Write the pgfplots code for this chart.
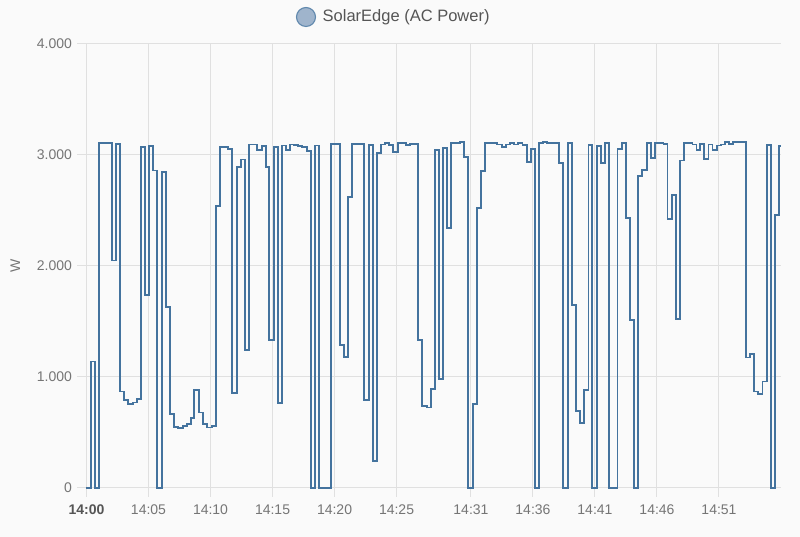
\documentclass[border=0pt]{standalone}
\usepackage{pgfplots}
\pgfplotsset{compat=1.18}
\usepackage{fontspec}
\setmainfont{Liberation Sans}

\definecolor{bg}{HTML}{FAFAFA}
\definecolor{gridc}{HTML}{E0E0E0}
\definecolor{linec}{HTML}{44739E}
\definecolor{dotfill}{HTML}{9FB4CC}
\definecolor{labc}{HTML}{757575}
\definecolor{boldc}{HTML}{555555}

\begin{document}
\begin{tikzpicture}
% page = 800 x 537 px, axis box lower left at (0,0)
\fill[bg] (-86.5pt,-49pt) rectangle (713.5pt,488pt);
\useasboundingbox (-86.5pt,-49pt) rectangle (713.5pt,488pt);
\begin{axis}[
	at={(0pt,0pt)}, anchor=south west,
	scale only axis,
	width=694.5pt, height=444pt,
	xmin=0, xmax=56,
	ymin=0, ymax=4000,
	axis x line*=bottom,
	axis y line*=left,
	axis line style={gridc, line width=1pt},
	grid=major,
	major grid style={gridc, line width=1pt},
	tick align=outside,
	major tick length=9pt,
	tick style={gridc, line width=1pt},
	xtick={0,5,10,15,20,25,31,36,41,46,51},
	xticklabels={\textbf{\color{boldc}14:00},14:05,14:10,14:15,14:20,14:25,14:31,14:36,14:41,14:46,14:51},
	ytick={0,1000,2000,3000,4000},
	yticklabels={0,1.000,2.000,3.000,4.000},
	/pgf/number format/assume math mode=true,
	ticklabel style={font=\fontsize{14}{16}\selectfont, text=labc},
	xticklabel style={yshift=-4pt},
	yticklabel style={xshift=-2pt},
	ylabel={W},
	ylabel style={font=\fontsize{14}{16}\selectfont, text=labc, yshift=10pt},
	clip=false,
]
\addplot[const plot, linec, line width=1.8pt] table {
x y
0.00 0
0.36 1140
0.69 0
1.03 3105
2.03 2050
2.38 3100
2.70 870
3.05 790
3.37 760
3.77 770
4.05 800
4.37 3070
4.72 1740
5.04 3080
5.39 2860
5.71 0
6.06 2850
6.41 1630
6.73 670
7.08 550
7.40 540
7.76 560
8.08 580
8.40 630
8.69 880
9.07 680
9.42 580
9.74 545
10.10 560
10.42 2540
10.77 3070
11.44 3055
11.76 855
12.11 2890
12.44 2960
12.78 1240
13.10 3095
13.77 3045
14.13 3080
14.45 2890
14.74 1330
15.10 3070
15.42 765
15.74 3085
16.09 3045
16.41 3095
16.73 3090
17.08 3080
17.40 3070
17.76 3035
18.08 0
18.43 3085
18.75 0
19.74 3100
20.42 1290
20.74 1180
21.09 2625
21.41 3100
22.40 795
22.76 3090
23.08 240
23.43 3015
23.75 3095
24.07 3105
24.42 3090
24.74 3030
25.10 3105
25.77 3090
26.09 3100
26.76 1330
27.08 740
27.44 725
27.76 890
28.10 3045
28.43 980
28.77 3065
29.10 2345
29.42 3105
30.12 3115
30.44 2980
30.79 0
31.15 755
31.47 2520
31.81 2855
32.14 3105
32.48 3110
32.81 3105
33.13 3095
33.48 3075
33.81 3095
34.15 3110
34.48 3095
34.82 3105
35.15 3090
35.50 2940
35.82 3055
36.17 0
36.49 3110
36.84 3120
37.16 3110
38.13 2925
38.45 0
38.81 3110
39.13 1650
39.48 695
39.80 585
40.12 885
40.47 3090
40.79 0
41.15 3080
41.47 2930
41.81 3105
42.14 0
42.81 3055
43.16 3105
43.48 2430
43.83 1510
44.15 0
44.50 2810
44.82 2865
45.18 3110
45.50 2970
45.85 3110
46.52 3100
46.84 2425
47.19 2640
47.52 1525
47.86 2950
48.19 3105
48.86 3095
49.18 3045
49.50 3100
49.82 2965
50.16 3095
50.48 3045
50.82 3085
51.15 3095
51.49 3115
51.81 3100
52.16 3115
53.16 1175
53.51 1205
53.83 870
54.17 845
54.50 960
54.85 3090
55.18 0
55.52 2460
55.85 3080
56.00 3080
};
\end{axis}
% legend
\draw[linec!85, fill=dotfill, line width=1.1pt] (219.5pt,471pt) circle (9.5pt);
\node[anchor=west, inner sep=0pt, text=boldc, font=\fontsize{16.5}{18}\selectfont]
	at (236pt,471pt) {SolarEdge (AC Power)};
\end{tikzpicture}
\end{document}
